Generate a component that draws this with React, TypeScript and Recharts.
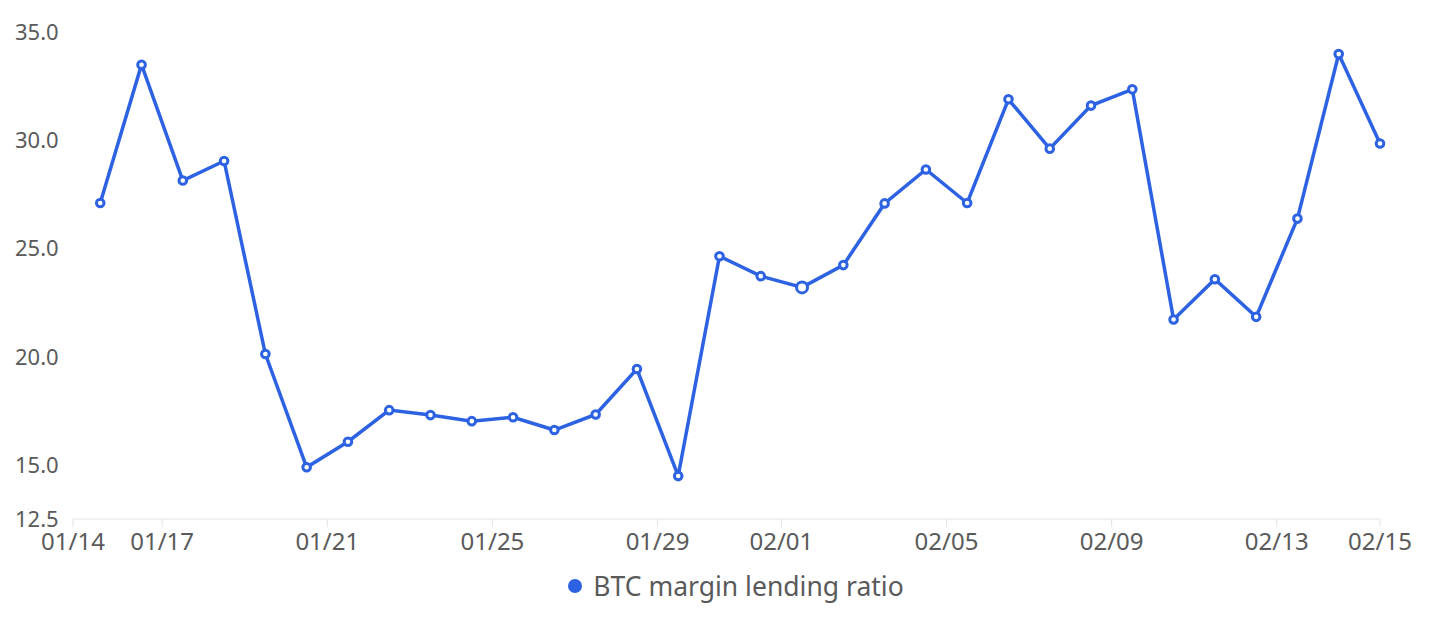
import { CartesianGrid, Legend, Line, LineChart, XAxis, YAxis } from 'recharts';

const dates = [
  '01/15', '01/16', '01/17', '01/18', '01/19', '01/20', '01/21', '01/22', '01/23', '01/24', '01/25',
  '01/26', '01/27', '01/28', '01/29', '01/30', '01/31', '02/01', '02/02', '02/03', '02/04', '02/05',
  '02/06', '02/07', '02/08', '02/09', '02/10', '02/11', '02/12', '02/13', '02/14', '02/15'
];
const ratios = [
  27.1, 33.49, 28.14, 29.04, 20.12, 14.89, 16.07, 17.53, 17.3, 17.02, 17.2,
  16.61, 17.33, 19.43, 14.49, 24.64, 23.72, 23.2, 24.23, 27.08, 28.65, 27.1,
  31.89, 29.61, 31.6, 32.35, 21.72, 23.58, 21.84, 26.38, 33.98, 29.85
];
const xTickDays = [0.84, 3, 7, 11, 15, 18, 22, 26, 30, 32.5];
const xTickLabels = ['01/14', '01/17', '01/21', '01/25', '01/29', '02/01', '02/05', '02/09', '02/13', '02/15'];
const yTicks = [12.5, 15, 20, 25, 30, 35];

const seriesName = 'BTC margin lending ratio';
const blue = '#2d62e3';
const textGray = '#5a5a5a';
const font = '"Noto Sans", sans-serif';

// day offset from 01/14 00:00, points sit around noon
const dayOffset = (d: string) => {
  const [m, day] = d.split('/').map(Number);
  return (m === 1 ? day : 31 + day) - 14 + 0.5;
};

const data = dates.map((d, i) => ({ day: dayOffset(d), date: d, ratio: ratios[i] }));

const YTick = ({ y, payload, index }: any) => (
  <g>
    <defs>
      <clipPath id={`yclip-${index}`}>
        <rect x={0} y={y - 20} width={53} height={40} />
      </clipPath>
    </defs>
    <text
      x={7}
      y={y}
      dy={8}
      textAnchor="start"
      fill={textGray}
      fontSize={22}
      fontFamily={font}
      clipPath={`url(#yclip-${index})`}
    >
      {payload.value.toFixed(1)}
    </text>
  </g>
);

const XTick = ({ x, y, payload, index }: any) => (
  <text x={x} y={y} dy={21} textAnchor="middle" fill={textGray} fontSize={24} fontFamily={font}>
    {xTickLabels[index] ?? ''}
  </text>
);

const Dot = ({ cx, cy, index }: any) => (
  <circle
    key={`dot-${index}`}
    cx={cx}
    cy={cy}
    r={dates[index] === '02/01' ? 5.5 : 3.8}
    fill="#fff"
    stroke={blue}
    strokeWidth={3}
  />
);

const LegendContent = () => (
  <div
    style={{
      display: 'flex',
      justifyContent: 'center',
      alignItems: 'center',
      fontFamily: font,
      fontSize: 26.5,
      color: textGray,
      paddingLeft: 84
    }}
  >
    <span
      style={{
        width: 14,
        height: 14,
        borderRadius: '50%',
        background: blue,
        display: 'inline-block',
        marginRight: 11
      }}
    />
    <span>{seriesName}</span>
  </div>
);

export default function App() {
  return (
    <LineChart
      width={1414}
      height={606}
      data={data}
      margin={{ top: 24, right: 42, left: 0, bottom: 0 }}
      style={{ fontFamily: font }}
    >
      <CartesianGrid horizontal={false} vertical={false} />
      <XAxis
        dataKey="day"
        type="number"
        domain={[xTickDays[0], xTickDays[xTickDays.length - 1]]}
        ticks={xTickDays}
        interval={0}
        height={50}
        stroke="#e4e4e4"
        tickSize={8}
        tick={<XTick />}
      />
      <YAxis
        type="number"
        domain={[12.5, 35]}
        ticks={yTicks}
        interval={0}
        width={65}
        axisLine={false}
        tickLine={false}
        tick={<YTick />}
      />
      <Legend
        verticalAlign="bottom"
        height={45}
        content={<LegendContent />}
        wrapperStyle={{ bottom: 1 }}
      />
      <Line
        type="linear"
        dataKey="ratio"
        name={seriesName}
        stroke={blue}
        strokeWidth={3.5}
        dot={<Dot />}
        activeDot={false}
        isAnimationActive={false}
      />
    </LineChart>
  );
}
